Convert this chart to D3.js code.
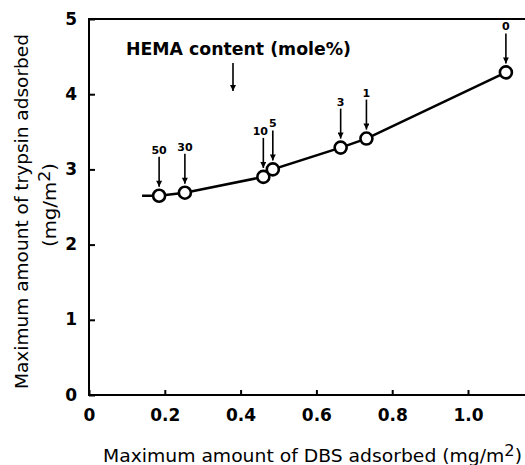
<!DOCTYPE html>
<html>
<head>
<meta charset="utf-8">
<script src="https://cdn.jsdelivr.net/npm/d3@7"></script>
<style>
  body { margin: 0; background: #fff; }
  text { font-family: "DejaVu Sans", "Liberation Sans", Arial, sans-serif; }
</style>
</head>
<body>
<script>
(function () {

    // HEMA content (mole%) for each sample
    const hema = ['50', '30', '10', '5', '3', '1', '0'];
    const dbs = [0.185, 0.253, 0.46, 0.485, 0.664, 0.732, 1.10];
    const trypsin = [2.65, 2.69, 2.90, 3.00, 3.29, 3.41, 4.29];
    // short leftward tail of the curve
    const tail = [0.14, 2.65];

    const xTicks = [0, 0.2, 0.4, 0.6, 0.8, 1.0];
    const xTickLabels = ['0', '0.2', '0.4', '0.6', '0.8', '1.0'];
    const yTicks = [0, 1, 2, 3, 4, 5];

    const W = 525, H = 465;
    const margin = {top: 19, bottom: 70, left: 89, right: 0};
    const width = W - margin.left - margin.right,
        height = H - margin.top - margin.bottom;

    const svg = d3.select('body')
        .append('svg')
        .attr('width', W)
        .attr('height', H);

    const g = svg.append('g')
        .attr('transform', 'translate(' + margin.left + ', ' + margin.top + ')');

    const x = d3.scaleLinear()
        .domain([0, width / 379])
        .range([0, width]);

    const y = d3.scaleLinear()
        .domain([0, 5])
        .range([height, 0]);

    // frame: left, bottom, top
    g.append('path')
        .attr('d', 'M' + width + ',0H0V' + height + 'H' + width)
        .attr('fill', 'none')
        .attr('stroke', '#000')
        .attr('stroke-width', 2);

    const xAxis = d3.axisBottom(x)
        .tickValues(xTicks)
        .tickSizeInner(-5)
        .tickSizeOuter(0)
        .tickPadding(14)
        .tickFormat((d, i) => xTickLabels[i]);

    const yAxis = d3.axisLeft(y)
        .tickValues(yTicks)
        .tickSizeInner(-6)
        .tickSizeOuter(0)
        .tickPadding(12)
        .tickFormat(d3.format('d'));

    const gx = g.append('g')
        .attr('transform', 'translate(0, ' + height + ')')
        .call(xAxis);
    const gy = g.append('g').call(yAxis);

    [gx, gy].forEach(a => {
        a.select('.domain').remove();
        a.selectAll('line').attr('stroke-width', 2);
        a.selectAll('text')
            .attr('font-size', 17)
            .attr('font-weight', 'bold')
            .attr('font-family', '"DejaVu Sans", Arial, sans-serif')
            .attr('fill', '#000');
    });
    gy.selectAll('text').attr('dy', '0.3em');

    // curve
    const pts = [tail].concat(dbs.map((d, i) => [d, trypsin[i]]));
    const line = d3.line()
        .x(d => x(d[0]))
        .y(d => y(d[1]));

    g.append('path')
        .datum(pts)
        .attr('d', line)
        .attr('fill', 'none')
        .attr('stroke', '#000')
        .attr('stroke-width', 2.5);

    g.selectAll('circle.pt')
        .data(dbs)
        .join('circle')
        .attr('class', 'pt')
        .attr('cx', d => x(d))
        .attr('cy', (d, i) => y(trypsin[i]))
        .attr('r', 6)
        .attr('fill', '#fff')
        .attr('stroke', '#000')
        .attr('stroke-width', 2.6);

    // arrow heads
    svg.append('defs').append('marker')
        .attr('id', 'ah')
        .attr('viewBox', '0 0 10 10')
        .attr('refX', 10).attr('refY', 5)
        .attr('markerWidth', 8).attr('markerHeight', 6)
        .attr('markerUnits', 'userSpaceOnUse')
        .attr('orient', 'auto')
        .append('path')
        .attr('d', 'M0,0L10,5L0,10Z')
        .attr('fill', '#000');

    const lab = g.selectAll('g.lab')
        .data(dbs)
        .join('g')
        .attr('class', 'lab')
        .attr('transform', (d, i) => 'translate(' + x(d) + ',' + y(trypsin[i]) + ')');

    lab.append('line')
        .attr('x1', 0).attr('x2', 0)
        .attr('y1', -39).attr('y2', -9)
        .attr('stroke', '#000')
        .attr('stroke-width', 1.6)
        .attr('marker-end', 'url(#ah)');

    lab.append('text')
        .attr('x', (d, i) => hema[i] === '10' ? -3 : 0)
        .attr('y', -42)
        .attr('text-anchor', 'middle')
        .attr('font-size', 11)
        .attr('font-weight', 'bold')
        .attr('font-family', '"Liberation Sans", Arial, sans-serif')
        .text((d, i) => hema[i]);

    // legend note
    g.append('text')
        .attr('x', 126 - margin.left)
        .attr('y', 55 - margin.top)
        .attr('font-size', 17)
        .attr('font-weight', 'bold')
        .attr('textLength', 225)
        .attr('lengthAdjust', 'spacingAndGlyphs')
        .text('HEMA content (mole%)');

    g.append('line')
        .attr('x1', 233 - margin.left).attr('x2', 233 - margin.left)
        .attr('y1', 63 - margin.top).attr('y2', 91 - margin.top)
        .attr('stroke', '#000')
        .attr('stroke-width', 1.6)
        .attr('marker-end', 'url(#ah)');

    // axis titles
    const xt = svg.append('text')
        .attr('x', 103)
        .attr('y', 462)
        .attr('font-size', 18.5)
        .attr('textLength', 419)
        .attr('lengthAdjust', 'spacingAndGlyphs');
    xt.append('tspan').text('Maximum amount of DBS adsorbed (mg/m');
    xt.append('tspan').attr('dy', -6).attr('font-size', 16).text('2');
    xt.append('tspan').attr('dy', 6).text(')');

    const yt = svg.append('g')
        .attr('transform', 'translate(0, 212) rotate(-90)');
    yt.append('text')
        .attr('x', -177).attr('y', 28)
        .attr('font-size', 18)
        .attr('textLength', 355)
        .attr('lengthAdjust', 'spacingAndGlyphs')
        .text('Maximum amount of trypsin adsorbed');
    const yt2 = yt.append('text')
        .attr('x', -35).attr('y', 56)
        .attr('font-size', 18)
        .attr('textLength', 84)
        .attr('lengthAdjust', 'spacingAndGlyphs');
    yt2.append('tspan').text('(mg/m');
    yt2.append('tspan').attr('dy', -6).attr('font-size', 16).text('2');
    yt2.append('tspan').attr('dy', 6).text(')');

})();
</script>
</body>
</html>
